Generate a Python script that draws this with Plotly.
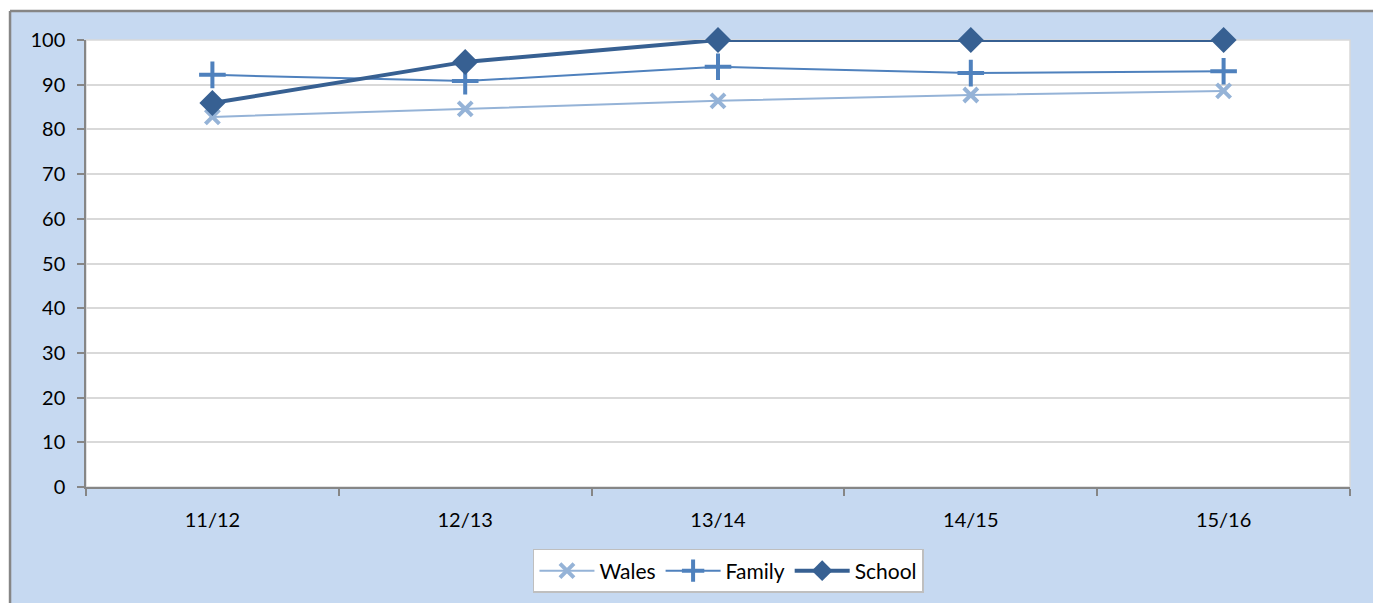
import plotly.graph_objects as go

categories = ["11/12", "12/13", "13/14", "14/15", "15/16"]
wales = [82.8, 84.6, 86.4, 87.7, 88.6]
family = [92.2, 90.8, 94.0, 92.6, 93.0]
school = [85.9, 95.1, 100, 100, 100]
y_ticks = [0, 10, 20, 30, 40, 50, 60, 70, 80, 90, 100]

FONT = "Lato"
FS = 20
fig = go.Figure()
fig.add_trace(go.Scatter(
    x=categories, y=wales, name="Wales", mode="lines+markers",
    line=dict(color="#95B3D7", width=2),
    marker=dict(symbol="x-thin", size=14, color="#95B3D7",
                line=dict(color="#95B3D7", width=4)),
))
fig.add_trace(go.Scatter(
    x=categories, y=family, name="Family", mode="lines+markers",
    line=dict(color="#4F81BD", width=2),
    marker=dict(symbol="cross-thin", size=19, color="#4F81BD",
                line=dict(color="#4F81BD", width=4)),
))
fig.add_trace(go.Scatter(
    x=categories, y=school, name="School", mode="lines+markers",
    line=dict(color="#376092", width=4),
    marker=dict(symbol="diamond", size=20, color="#376092"),
))

fig.update_traces(cliponaxis=False)

fig.update_layout(
    width=1373, height=603,
    margin=dict(l=86, r=23, t=40, b=116, autoexpand=False),
    paper_bgcolor="#C6D9F1",
    plot_bgcolor="white",
    font=dict(family=FONT, size=FS, color="#000000"),
    showlegend=True,
    legend=dict(
        orientation="h", x=0.3536, xanchor="left", y=-0.1387, yanchor="top",
        bgcolor="white", bordercolor="#BFBFBF", borderwidth=1.5,
        font=dict(family=FONT, size=21), itemwidth=55,
        tracegroupgap=0,
    ),
    xaxis=dict(
        type="category", range=[-0.5, 4.5], tickson="boundaries",
        ticks="outside", ticklen=7, tickcolor="#868686", tickwidth=1.5,
        showline=True, linecolor="#868686", linewidth=1.5,
        showgrid=False, zeroline=False, ticklabelstandoff=14,
        tickfont=dict(family=FONT, size=FS),
    ),
    yaxis=dict(
        range=[0, 100], tickvals=y_ticks,
        ticks="outside", ticklen=7, tickcolor="#868686", tickwidth=1.5,
        showline=True, linecolor="#868686", linewidth=1.5,
        showgrid=True, gridcolor="#D9D9D9", gridwidth=1.5, zeroline=False,
        ticklabelstandoff=8, tickfont=dict(family=FONT, size=FS),
    ),
    shapes=[
        dict(type="rect", xref="paper", yref="paper", layer="below",
             x0=-0.2, x1=-0.0601, y0=-0.5, y1=1.2,
             fillcolor="white", line=dict(width=0)),
        dict(type="rect", xref="paper", yref="paper", layer="below",
             x0=-0.2, x1=1.3, y0=1.0649, y1=1.2,
             fillcolor="white", line=dict(width=0)),
        dict(type="line", xref="paper", yref="paper", layer="below",
             x0=-0.0601, x1=1.3, y0=1.0649, y1=1.0649,
             line=dict(color="#868686", width=2.5)),
        dict(type="line", xref="paper", yref="paper", layer="below",
             x0=-0.0601, x1=-0.0601, y0=-0.5, y1=1.0649,
             line=dict(color="#868686", width=2.5)),
        dict(type="rect", xref="x domain", yref="y domain", layer="below",
             x0=0, x1=1, y0=0, y1=1,
             fillcolor="white", line=dict(color="#D9D9D9", width=1.5)),
    ],
)

fig.write_html(
    "out.html",
    config={"displayModeBar": False},
    post_script="document.body.style.margin='0';document.body.style.overflow='hidden';",
)
